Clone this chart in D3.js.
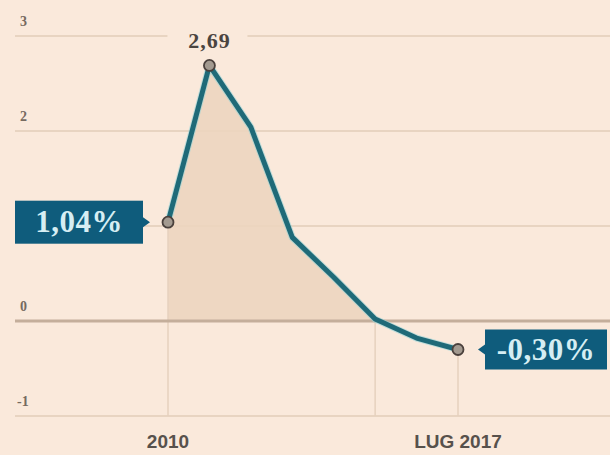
<!DOCTYPE html>
<html><head><meta charset="utf-8">
<script src="https://cdn.jsdelivr.net/npm/d3@7"></script>
<style>
html,body{margin:0;padding:0;background:#fae9db;}
svg{display:block;}
</style></head>
<body>
<svg id="c" width="610" height="455"></svg>
<script>
const categories = ["2010","2011","2012","2013","2014","2015","2016","LUG 2017"];
const values = [1.04, 2.69, 2.04, 0.88, 0.46, 0.02, -0.18, -0.30];
const yTicks = [3, 2, 1, 0, -1];
const yTickLabels = ["3", "2", "", "0", "-1"];
const xTickLabels = ["2010", "LUG 2017"];
const markedPoints = ["2010", "2011", "LUG 2017"];
const peakLabel = "2,69";
const startLabel = "1,04%";
const endLabel = "-0,30%";

const svg = d3.select("#c");
const x = d3.scalePoint().domain(categories).range([168, 458]);
const y = d3.scaleLinear().domain([-1, 3]).range([416, 36]);
const W = 610;
const data = categories.map((c, i) => ({c, v: values[i]}));

svg.append("rect").attr("width", W).attr("height", 455).attr("fill", "#fae9db");

const tickFont = "Liberation Serif, serif";
yTicks.forEach((t, i) => {
  if (t !== 0) {
    svg.append("line").attr("x1", 15).attr("x2", W).attr("y1", y(t)).attr("y2", y(t))
      .attr("stroke", "#e2cdb9").attr("stroke-width", 1.6);
  }
  if (yTickLabels[i]) {
    svg.append("text").attr("x", t < 0 ? 17 : 20).attr("y", y(t) - 10)
      .attr("font-family", tickFont).attr("font-size", 14).attr("font-weight", "bold")
      .attr("fill", "#766a60").text(yTickLabels[i]);
  }
});

// zero crossing
const zeroCross = (() => {
  for (let i = 0; i < data.length - 1; i++) {
    if (data[i].v >= 0 && data[i + 1].v < 0) {
      const f = data[i].v / (data[i].v - data[i + 1].v);
      return x(data[i].c) + f * (x(data[i + 1].c) - x(data[i].c));
    }
  }
  return x(categories[categories.length - 1]);
})();
const posPts = data.filter(d => d.v >= 0).map(d => [x(d.c), y(d.v)]);
posPts.push([zeroCross, y(0)]);
const areaPts = [[x(categories[0]), y(0)], ...posPts];
svg.append("path").attr("d", "M" + areaPts.map(p => p.join(",")).join("L") + "Z")
  .attr("fill", "#ecd5bf").attr("opacity", 0.9);

// vertical lines
[[x("2010"), y(values[0])], [x("2015"), y(0)], [x("LUG 2017"), y(values[values.length - 1])]].forEach(([vx, vy]) => {
  svg.append("line").attr("x1", vx).attr("x2", vx).attr("y1", vy).attr("y2", y(-1))
    .attr("stroke", "#e6d1be").attr("stroke-width", 1.5);
});

// zero line
svg.append("line").attr("x1", 15).attr("x2", W).attr("y1", y(0)).attr("y2", y(0))
  .attr("stroke", "#c4ae9b").attr("stroke-width", 3);

// peak label with gap in gridline
const pk = data[1];
svg.append("rect").attr("x", x(pk.c) - 42).attr("y", y(3) - 4).attr("width", 80).attr("height", 8).attr("fill", "#fae9db");
svg.append("text").attr("x", x(pk.c)).attr("y", 48).attr("text-anchor", "middle")
  .attr("font-family", "Liberation Serif, serif").attr("font-size", 22).attr("font-weight", "bold")
  .attr("letter-spacing", 1).attr("fill", "#4a4440").text(peakLabel);

// line
const line = d3.line().x(d => x(d.c)).y(d => y(d.v)).curve(d3.curveLinear);
svg.append("path").datum(data).attr("d", line).attr("fill", "none")
  .attr("stroke", "#8fd3d8").attr("stroke-width", 7).attr("stroke-linejoin", "round").attr("opacity", 0.55);
svg.append("path").datum(data).attr("d", line).attr("fill", "none")
  .attr("stroke", "#1f6a78").attr("stroke-width", 5).attr("stroke-linejoin", "round");

// points
data.filter(d => markedPoints.includes(d.c)).forEach(d => {
  svg.append("circle").attr("cx", x(d.c)).attr("cy", y(d.v)).attr("r", 5.5)
    .attr("fill", "#a39a90").attr("stroke", "#4a403c").attr("stroke-width", 1.8);
});

// label boxes
function box(x0, x1, cy, h, tipX, txt) {
  svg.append("rect").attr("x", x0).attr("y", cy - h / 2).attr("width", x1 - x0).attr("height", h).attr("fill", "#0f5c7c");
  const edge = tipX > x1 ? x1 : x0;
  svg.append("path").attr("d", `M${edge},${cy - 5}L${tipX},${cy}L${edge},${cy + 5}Z`).attr("fill", "#0f5c7c");
  svg.append("text").attr("x", (x0 + x1) / 2).attr("y", cy + 10).attr("text-anchor", "middle")
    .attr("font-family", "Liberation Serif, serif").attr("font-size", 31).attr("font-weight", "bold")
    .attr("letter-spacing", 0.5).attr("fill", "#d6eef3").text(txt);
}
box(15, 143, y(values[0]), 43, 150, startLabel);
box(485, 607, y(values[values.length - 1]), 40, 478, endLabel);

// x labels
xTickLabels.forEach(l => {
  svg.append("text").attr("x", x(l)).attr("y", 448).attr("text-anchor", "middle")
    .attr("font-family", "Liberation Sans, sans-serif").attr("font-size", 19).attr("font-weight", "bold")
    .attr("fill", "#57514c").text(l);
});
</script>
</body></html>
